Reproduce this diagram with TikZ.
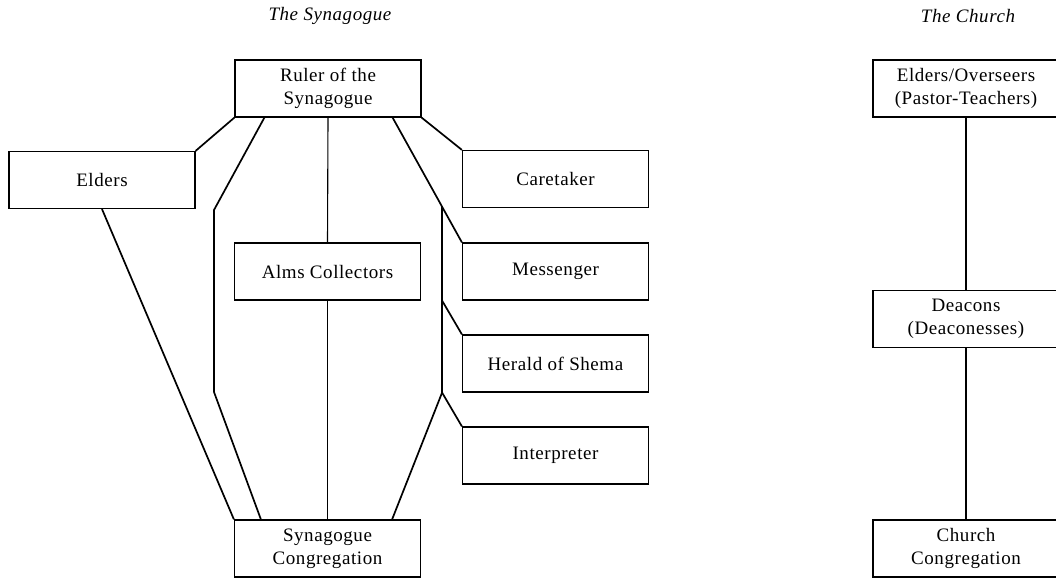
\documentclass[tikz,border=0pt]{standalone}
\usepackage{fontspec}
\setmainfont[LetterSpace=3]{Liberation Serif}
\usetikzlibrary{calc}
\begin{document}
\begin{tikzpicture}[x=1pt,y=-1pt,
office/.style={draw=black, line width=1.2pt, minimum width=186pt, minimum height=57pt, inner sep=0pt, align=center, font=\fontsize{19}{23}\selectfont},
link/.style={draw=black, line width=1.7pt},
thinlink/.style={draw=black, line width=1.1pt},
heading/.style={font=\fontsize{19}{23}\selectfont\itshape}]
\useasboundingbox (0,0) rectangle (1056,578);

\node[heading] (synhead) at (330,16) {The Synagogue};
\node[heading] (chhead) at (968,16) {The Church};

\node[office] (ruler) at (328,88.5) {Ruler of the\\Synagogue};
\node[office] (elders) at (102,180) {Elders};
\node[office] (care) at (555.5,179) {Caretaker};
\node[office] (alms) at (327.5,271.5) {Alms Collectors};
\node[office] (mess) at (555.5,271.5) {Messenger};
\node[office] (herald) at (555.5,363.5) {Herald of Shema};
\node[office] (interp) at (555.5,455.5) {Interpreter};
\node[office] (cong) at (327.5,548.5) {Synagogue\\Congregation};

\node[office] (overseers) at (966,88.5) {Elders/Overseers\\(Pastor-Teachers)};
\node[office] (deacons) at (966,319) {Deacons\\(Deaconesses)};
\node[office] (church) at (966,548.5) {Church\\Congregation};

\coordinate (lefttop) at (214,210);
\coordinate (leftbot) at (214,392);

\draw[link] (ruler.south west) -- (elders.north east);
\draw[link] (ruler.south east) -- (care.north west);
\draw[link] (elders.south) -- (cong.north west);
\draw[link] ($(ruler.south west)+(30,0)$) -- (lefttop) -- (leftbot) -- ($(cong.north west)+(27,0)$);
\draw[thinlink] (ruler.south) -- (alms.north);
\draw[thinlink] (alms.south) -- (cong.north);
\draw[link] ($(ruler.south east)+(-29,0)$) -- coordinate[pos=0.714] (righttop) (mess.north west);
\draw[link] (righttop) -- (righttop |- herald.south);
\draw[link] (righttop |- mess.south) -- (herald.north west);
\draw[link] (righttop |- herald.south) -- (interp.north west);
\draw[link] (righttop |- herald.south) -- ($(cong.north east)+(-29,0)$);

\draw[thinlink] (overseers.south) -- (deacons.north);
\draw[thinlink] (deacons.south) -- (church.north);
\end{tikzpicture}
\end{document}
